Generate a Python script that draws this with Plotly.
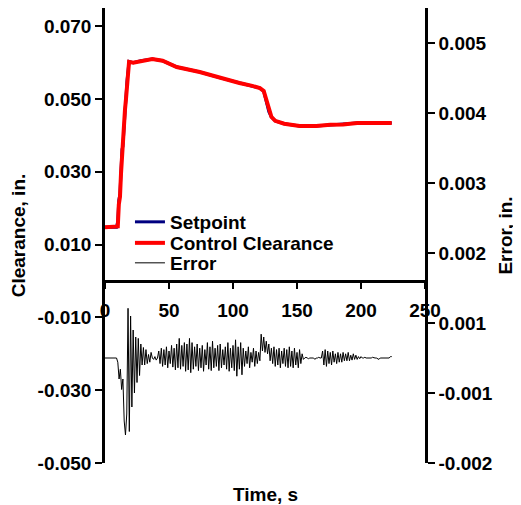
import plotly.graph_objects as go

# ---- data ----
time_clr = [0, 9, 10, 10.8, 11.7, 12.5, 13.3, 14.0, 14.8, 15.6, 16.4, 17.2, 18.0, 18.8, 22, 28, 37, 45,
            56, 74, 90, 105, 115, 121, 124, 126, 128, 130, 133, 140, 152, 165, 176, 186, 197, 210, 224]
setpoint = [0.0148, 0.0148, 0.0165, 0.0222, 0.0240, 0.0305, 0.0362, 0.0370, 0.0425, 0.0475, 0.0505, 0.0550,
            0.0580, 0.0603, 0.0600, 0.0605, 0.0610, 0.0605, 0.0588, 0.0574, 0.0558, 0.0544, 0.0536, 0.0530,
            0.0521, 0.0495, 0.0465, 0.0450, 0.0440, 0.0432, 0.0426, 0.0426, 0.0429, 0.0430, 0.0434, 0.0434, 0.0434]
control = [0.0148, 0.0148, 0.0150, 0.0210, 0.0231, 0.0295, 0.0355, 0.0362, 0.0420, 0.0470, 0.0500, 0.0544,
           0.0575, 0.0602, 0.0600, 0.0605, 0.0610, 0.0605, 0.0588, 0.0574, 0.0558, 0.0544, 0.0536, 0.0530,
           0.0522, 0.0497, 0.0467, 0.0451, 0.0440, 0.0432, 0.0426, 0.0426, 0.0429, 0.0430, 0.0434, 0.0434, 0.0434]

time_err = list(range(0, 225))
error = [
    0.00050, 0.00050, 0.00050, 0.00050, 0.00050, 0.00050, 0.00050, 0.00050, 0.00050, 0.00050,  # 0-9
    0.00044, 0.00020, 0.00034, 0.00005, 0.00020, -0.00040, -0.00060, -0.00030, 0.00121, -0.00055,  # 10-19
    0.00110, -0.00020, 0.00090, 0.00000, 0.00080, 0.00015, 0.00078, 0.00025, 0.00070, 0.00040,  # 20-29
    0.00065, 0.00040, 0.00062, 0.00042, 0.00055, 0.00044, 0.00058, 0.00050, 0.00048, 0.00052,  # 30-39
    0.00047, 0.00050, 0.00060, 0.00042, 0.00064, 0.00038, 0.00062, 0.00040, 0.00066, 0.00036,  # 40-49
    0.00060, 0.00042, 0.00068, 0.00037, 0.00064, 0.00033, 0.00070, 0.00036, 0.00078, 0.00034,  # 50-59
    0.00068, 0.00038, 0.00072, 0.00031, 0.00070, 0.00033, 0.00078, 0.00029, 0.00072, 0.00034,  # 60-69
    0.00066, 0.00038, 0.00070, 0.00032, 0.00064, 0.00036, 0.00068, 0.00031, 0.00062, 0.00040,  # 70-79
    0.00072, 0.00034, 0.00066, 0.00032, 0.00074, 0.00036, 0.00064, 0.00038, 0.00068, 0.00032,  # 80-89
    0.00070, 0.00036, 0.00062, 0.00040, 0.00066, 0.00034, 0.00072, 0.00031, 0.00064, 0.00036,  # 90-99
    0.00068, 0.00032, 0.00076, 0.00024, 0.00066, 0.00034, 0.00072, 0.00026, 0.00064, 0.00038,  # 100-109
    0.00060, 0.00042, 0.00066, 0.00036, 0.00058, 0.00044, 0.00064, 0.00038, 0.00060, 0.00042,  # 110-119
    0.00058, 0.00046, 0.00084, 0.00060, 0.00080, 0.00058, 0.00074, 0.00056, 0.00070, 0.00046,  # 120-129
    0.00064, 0.00042, 0.00066, 0.00038, 0.00062, 0.00040, 0.00064, 0.00036, 0.00060, 0.00042,  # 130-139
    0.00064, 0.00038, 0.00062, 0.00036, 0.00066, 0.00038, 0.00060, 0.00036, 0.00064, 0.00040,  # 140-149
    0.00058, 0.00036, 0.00062, 0.00042, 0.00056, 0.00048, 0.00050, 0.00051, 0.00050, 0.00049,  # 150-159
    0.00050, 0.00050, 0.00051, 0.00050, 0.00048, 0.00050, 0.00050, 0.00051, 0.00050, 0.00050,  # 160-169
    0.00060, 0.00040, 0.00062, 0.00038, 0.00060, 0.00042, 0.00058, 0.00040, 0.00060, 0.00044,  # 170-179
    0.00056, 0.00042, 0.00058, 0.00044, 0.00056, 0.00044, 0.00058, 0.00046, 0.00056, 0.00046,  # 180-189
    0.00058, 0.00046, 0.00054, 0.00047, 0.00056, 0.00048, 0.00054, 0.00048, 0.00052, 0.00049,  # 190-199
    0.00052, 0.00050, 0.00050, 0.00051, 0.00050, 0.00050, 0.00049, 0.00050, 0.00050, 0.00051,  # 200-209
    0.00050, 0.00050, 0.00050, 0.00049, 0.00048, 0.00050, 0.00050, 0.00051, 0.00050, 0.00050,  # 210-219
    0.00050, 0.00051, 0.00050, 0.00052, 0.00052,  # 220-224
]

x_ticks = [0, 50, 100, 150, 200, 250]
left_ticks = [-0.05, -0.03, -0.01, 0.01, 0.03, 0.05, 0.07]
left_labels = ["-0.050", "-0.030", "-0.010", "0.010", "0.030", "0.050", "0.070"]
right_ticks = [0.005, 0.004, 0.003, 0.002, 0.001, 0.0, -0.001]
right_labels = ["0.005", "0.004", "0.003", "0.002", "0.001", "-0.001", "-0.002"]

FONT = "Liberation Sans, Arial, sans-serif"
bold = dict(family=FONT, size=19, color="black", weight="bold")

fig = go.Figure()
fig.add_trace(go.Scatter(x=time_clr, y=setpoint, name="Setpoint", mode="lines", legend="legend",
                         line=dict(color="#000080", width=3)))
fig.add_trace(go.Scatter(x=time_clr, y=control, name="Control Clearance", mode="lines", legend="legend2",
                         line=dict(color="#FF0000", width=4)))
fig.add_trace(go.Scatter(x=time_err, y=error, name="Error", mode="lines", yaxis="y2", legend="legend3",
                         line=dict(color="black", width=1)))

axis_common = dict(showgrid=False, zeroline=False, showline=True, linecolor="black",
                   linewidth=2.5, ticks="outside", tickwidth=2, tickcolor="black",
                   tickfont=bold, automargin=False)

leg_common = dict(x=0.078, xanchor="left", yanchor="middle", bgcolor="rgba(0,0,0,0)",
                  font=bold, itemwidth=30)

# The page body has an 8px default margin, so the figure is 8px smaller and shifted.
fig.update_layout(
    width=513, height=497,
    margin=dict(l=97, r=96, t=0, b=42),
    paper_bgcolor="white", plot_bgcolor="white",
    font=dict(family=FONT, color="black"),
    xaxis=dict(range=[0, 250], tickvals=x_ticks, ticklen=6, anchor="free", position=0.4,
               ticklabelstandoff=5, **axis_common),
    yaxis=dict(range=[-0.05, 0.075], tickvals=left_ticks, ticktext=left_labels, ticklen=7,
               title=dict(text="Clearance, in.", font=bold, standoff=10), **axis_common),
    yaxis2=dict(range=[-0.001, 0.0055], tickvals=right_ticks, ticktext=right_labels, ticklen=7,
                overlaying="y", side="right", anchor="x",
                title=dict(text="Error, in.", font=bold, standoff=7), **axis_common),
    legend=dict(y=0.5297, **leg_common),
    legend2=dict(y=0.4835, **leg_common),
    legend3=dict(y=0.4396, **leg_common),
    showlegend=True,
    annotations=[dict(text="Time, s", xref="paper", yref="paper", x=0.5, y=-0.0703,
                      xanchor="center", yanchor="middle", showarrow=False, font=bold)],
)

fig.write_html("out.html")
